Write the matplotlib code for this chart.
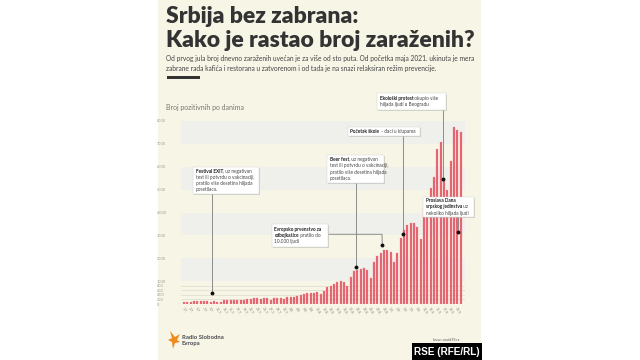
import matplotlib.pyplot as plt
from matplotlib.patches import Rectangle, Polygon

# dnevni broj pozitivnih, od 1.7. do 23.9.2021.
dani = list(range(84))
pozitivni = [100, 95, 100, 110, 130, 125, 110, 130, 95, 130, 80, 80,
             170, 175, 170, 180, 165, 170, 175, 200,
             230, 260, 255, 210, 265, 270,
             190, 250, 280, 263, 220, 290, 290, 290, 336, 395, 440, 480,
             480, 480, 512, 440, 585, 730, 800, 877, 950, 1023, 950, 800,
             1200, 1430, 1490, 1520, 1560, 1500, 1150,
             1850, 2080, 2230, 2370, 2340, 2270, 1850, 2230, 2900, 3250,
             3460, 3560, 3540, 3380, 2850,
             4200, 4600, 5090, 5560, 6790, 7100, 5370, 5000, 6270, 7750,
             7590, 7530]
meseci = [31, 31, 30]
datumi = []
for m, n in zip([7, 8, 9], meseci):
    datumi += [f"{d}.{m}." for d in range(1, n + 1)]
datumi = datumi[:len(dani)]

y_glavni = [0, 1000, 2000, 3000, 4000, 5000, 6000, 7000, 8000]
y_sitni = [200, 400, 600, 800]

# dogadjaji: dan, nivo tacke, redovi teksta (delovi: tekst, bold),
# kutija u px (x0, y0, x1, y1), prelomne tacke linije u px
dogadjaji = [
    (8.4, 470,
     [[("Festival EXIT", True), (", uz negativan", False)],
      [("test ili potvrdu o vakcinaciji,", False)],
      [("pratilo više desetina hiljada", False)],
      [("posetilaca.", False)]],
     (193, 167, 259, 194), [(212, 194)]),
    (51.5, 1620,
     [[("Beer fest", True), (", uz negativan", False)],
      [("test ili potvrdu o vakcinaciji,", False)],
      [("pratilo više desetina hiljada", False)],
      [("posetilaca.", False)]],
     (327, 155, 384, 183), [(355.7, 183)]),
    (59.5, 2590,
     [[("Evropsko prvenstvo za", True)],
      [("odbojkašice", True), (" pratilo do", False)],
      [("10.000 ljudi", False)]],
     (272, 224, 328, 247), [(328, 234.3), (382, 234.3)]),
    (65.8, 3070,
     [[("Početak škole", True), (" - đaci u klupama", False)]],
     (348, 127, 420, 135.5), [(403, 135.5)]),
    (77.8, 5480,
     [[("Ekološki protest", True), (" okupio više", False)],
      [("hiljada ljudi u Beogradu", False)]],
     (377, 93, 446, 110), [(443, 110)]),
    (82.2, 3130,
     [[("Proslava Dana", True)],
      [("srpskog jedinstva", True), (" uz", False)],
      [("nekoliko hiljada ljudi", False)]],
     (423, 197, 474, 217), [(458, 217)]),
]

W, H = 640, 360
fig = plt.figure(figsize=(6.4, 3.6), dpi=100, facecolor='white')


def fx(x, y):
    return x / W, 1 - y / H


# krem pozadina
fig.patches.append(Rectangle(fx(158, 360), 323 / W, 1, transform=fig.transFigure,
                             facecolor='#F7F5E6', edgecolor='none', zorder=-10))

ax = fig.add_axes([181 / W, (H - 304) / H, 284 / W, 183 / H])
ax.set_facecolor('none')
ax.set_xlim(-0.9, 84.3)
ax.set_ylim(0, 8000)

for a, b in [(1000, 2000), (3000, 4000), (5000, 6000), (7000, 8000)]:
    ax.axhspan(a, b, color='#EFEFEB', lw=0, zorder=0)
for y in y_sitni:
    ax.axhline(y, color='#DCDACB', lw=0.5, zorder=0)
ax.axhline(0, color='#D5D3C5', lw=0.6, zorder=0)

ax.bar(dani, pozitivni, width=0.68, color='#E4606C', edgecolor='#EE8A93',
       linewidth=0.2, zorder=2)

for s in ax.spines.values():
    s.set_visible(False)
ax.set_yticks(y_glavni + y_sitni)
ax.set_yticklabels([str(v) for v in y_glavni] + [str(v) for v in y_sitni])
ax.tick_params(axis='y', length=0, pad=7, labelsize=2.8, labelcolor='#9a9a90')
for lbl in ax.get_yticklabels():
    lbl.set_horizontalalignment('left')
    lbl.set_x(-0.052)
    lbl.set_fontfamily('Lato')
ax.set_xticks(dani[::2])
ax.set_xticklabels(datumi[::2], rotation=-60, ha='left', va='top',
                   rotation_mode='anchor', fontsize=2.6, color='#8a8a80',
                   family='Lato')
ax.tick_params(axis='x', length=0, pad=2)

fig.canvas.draw()
renderer = fig.canvas.get_renderer()
inv = ax.transData.inverted()


def u_podatke(px, py):
    return inv.transform((px, H - py))


for dan, nivo, redovi, (x0, y0, x1, y1), tacke in dogadjaji:
    pts = [u_podatke(px, py) for px, py in tacke]
    xs = [p[0] for p in pts] + [dan]
    ys = [p[1] for p in pts] + [nivo]
    if len(pts) == 1:
        xs[0] = dan
    ax.plot(xs, ys, color='#8c8c8c', lw=0.7, zorder=3, clip_on=False)
    ax.plot(dan, nivo, 'o', color='#111111', ms=1.8, zorder=4, clip_on=False)
    # senka pa kutija
    fig.patches.append(Rectangle(fx(x0 + 1.2, y1 + 1.2), (x1 - x0) / W, (y1 - y0) / H,
                                 transform=fig.transFigure, facecolor='#bdbdb5',
                                 edgecolor='none', alpha=0.6, zorder=5))
    fig.patches.append(Rectangle(fx(x0, y1), (x1 - x0) / W, (y1 - y0) / H,
                                 transform=fig.transFigure, facecolor='white',
                                 edgecolor='#d0d0d0', lw=0.3, zorder=5))
    korak = 6.2
    visina = korak * len(redovi)
    y_start = y0 + ((y1 - y0) - visina) / 2 + 4.6
    for r, red in enumerate(redovi):
        x = x0 + 2.5
        y = y_start + r * korak
        for deo, bold in red:
            t = fig.text(*fx(x, y), deo, fontsize=3.4, family='Lato',
                         fontweight='bold' if bold else 'normal',
                         color='#222222' if bold else '#444444',
                         va='baseline', ha='left', zorder=6)
            x += t.get_window_extent(renderer).width

# naslov
fig.text(*fx(166, 23), "Srbija bez zabrana:", fontsize=16.5, fontweight='heavy',
         family='Lato', color='#333333', va='baseline')
fig.text(*fx(166, 47), "Kako je rastao broj zaraženih?", fontsize=16.5,
         fontweight='heavy', family='Lato', color='#333333', va='baseline')
fig.text(*fx(166, 61.5), "Od prvog jula broj dnevno zaraženih uvećan je za više od sto puta. "
         "Od početka maja 2021. ukinuta je mera", fontsize=4.75, family='Lato',
         color='#444444', va='baseline')
fig.text(*fx(166, 71), "zabrane rada kafića i restorana u zatvorenom i od tada je na snazi "
         "relaksiran režim prevencije.", fontsize=4.75, family='Lato',
         color='#444444', va='baseline')
fig.patches.append(Rectangle(fx(167, 78.5), 33 / W, 2.5 / H, transform=fig.transFigure,
                             facecolor='#333333', edgecolor='none'))
fig.text(*fx(166.5, 110), "Broj pozitivnih po danima", fontsize=5, family='Lato',
         color='#777770', va='baseline')

# logo
plamen = [(170, 331), (175, 337), (180, 334), (177, 340), (180, 342),
          (175, 343), (173, 349), (172, 342), (168, 340), (172, 338)]
fig.patches.append(Polygon([fx(x, y) for x, y in plamen], closed=True,
                           transform=fig.transFigure, facecolor='#F08A1C',
                           edgecolor='none'))
fig.text(*fx(182, 339), "Radio Slobodna", fontsize=4.3, fontweight='bold',
         family='Lato', color='#4a4a55', va='baseline')
fig.text(*fx(182, 345), "Evropa", fontsize=4.3, fontweight='bold',
         family='Lato', color='#4a4a55', va='baseline')

# izvor i potpis
fig.text(*fx(446, 341), "Izvor: covid19.rs", fontsize=2.6, family='Lato',
         color='#555555', ha='center', va='baseline')
fig.patches.append(Rectangle(fx(412, 360), 70 / W, 17 / H, transform=fig.transFigure,
                             facecolor='black', edgecolor='none', zorder=5))
fig.text(*fx(447, 352), "RSE (RFE/RL)", fontsize=7.2, fontweight='bold',
         family='Liberation Sans', color='white', ha='center', va='center',
         zorder=6)

fig.savefig('out.png', dpi=100, facecolor='white')
